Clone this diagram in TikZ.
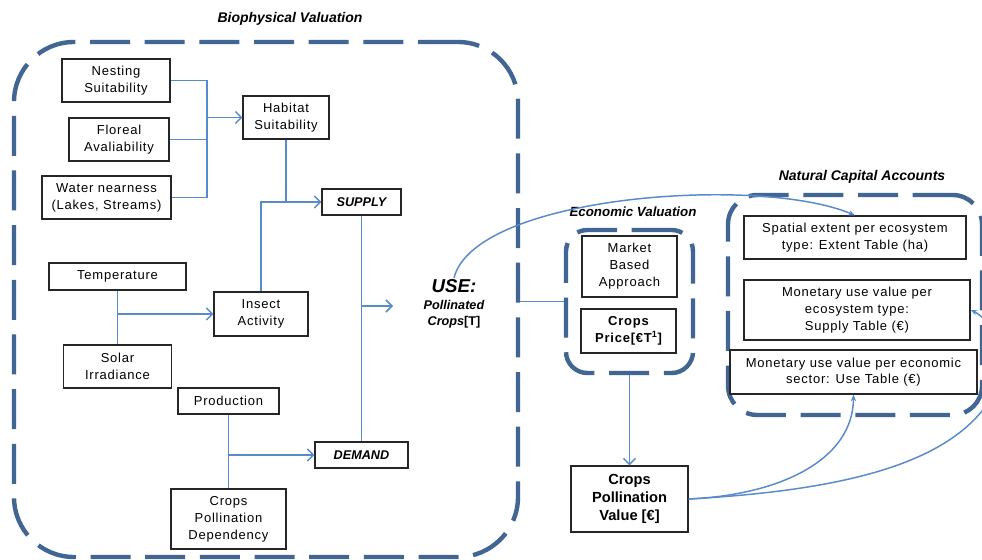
\documentclass[tikz,border=0pt]{standalone}
\usepackage{fontspec}
\setmainfont{Liberation Sans}
\newfontfamily\spacedfont{Liberation Sans}[LetterSpace=6]
\usetikzlibrary{arrows.meta,calc}

\definecolor{framecol}{RGB}{66,102,148}
\definecolor{linkcol}{RGB}{88,138,204}

\tikzset{
  frame/.style={draw=framecol, line width=3.3pt, dash pattern=on 30pt off 11pt,
                rectangle, inner sep=0pt},
  box/.style={draw=black!85, line width=0.9pt, fill=white, rectangle, align=center,
              inner sep=1pt, font=\spacedfont\fontsize{9.75}{12.75}\selectfont},
  bigbox/.style={box, font=\spacedfont\fontsize{9.75}{12.5}\selectfont},
  tight/.style={font=\fontsize{9.5}{12}\selectfont\bfseries\itshape},
  link/.style={draw=linkcol, line width=1.1pt},
  arr/.style={link, -{Straight Barb[length=4.5pt,width=9pt,line width=1.1pt]}},
  carr/.style={link, -{Stealth[length=5pt,width=4pt]}},
  title/.style={font=\fontsize{10.5}{12}\selectfont\bfseries\itshape}
}

\begin{document}
\begin{tikzpicture}[x=0.75pt,y=-0.75pt]
\clip (0,0) rectangle (982,560);
\fill[white] (0,0) rectangle (982,560);

% group frames
\node[frame, rounded corners=45pt, minimum width=378pt, minimum height=386.25pt] (bio) at (266,299.5) {};
\node[frame, rounded corners=16pt, minimum width=95.25pt, minimum height=107.25pt] (econ) at (629.5,301.5) {};
\node[frame, rounded corners=22pt, minimum width=190.5pt, minimum height=165pt] (nca) at (855,305) {};

% group titles
\node[title] at (290,19) {Biophysical Valuation};
\node[title, font=\fontsize{10}{12}\selectfont\bfseries\itshape] at (633,212) {Economic Valuation};
\node[title] at (862,177) {Natural Capital Accounts};

% biophysical boxes
\node[box, minimum width=81pt, minimum height=32.25pt] (nest) at (116,80.5) {Nesting\\Suitability};
\node[box, minimum width=75pt, minimum height=32.25pt] (flor) at (119,139.5) {Floreal\\Avaliability};
\node[box, minimum width=96.75pt, minimum height=32.25pt] (water) at (106.5,197.5) {Water nearness\\(Lakes, Streams)};
\node[box, minimum width=64.5pt, minimum height=32.25pt] (hab) at (286,117.5) {Habitat\\Suitability};
\node[box, tight, minimum width=59.25pt, minimum height=19.5pt] (supply) at (361.5,202) {SUPPLY};
\node[box, minimum width=102.75pt, minimum height=20.25pt] (temp) at (117.5,276.5) {Temperature};
\node[box, minimum width=70.5pt, minimum height=33pt] (insect) at (261,314) {Insect\\Activity};
\node[box, minimum width=81pt, minimum height=32.25pt] (solar) at (117.5,366.5) {Solar\\Irradiance};
\node[box, minimum width=75.75pt, minimum height=19.5pt] (prod) at (228.5,401) {Production};
\node[box, tight, minimum width=69.75pt, minimum height=19.5pt] (demand) at (361.5,455) {DEMAND};
\node[box, minimum width=86.25pt, minimum height=45pt] (cpd) at (228.5,519) {Crops\\Pollination\\Dependency};

% use label
\node[align=center, inner sep=1pt] (use) at (454,304)
  {{\fontsize{14}{15}\selectfont\bfseries\itshape USE:}\\[1pt]
   {\fontsize{9.5}{12.75}\selectfont\bfseries\itshape Pollinated}\\
   {\fontsize{9.5}{12.75}\selectfont\bfseries\itshape Crops\upshape[T]}};

% economic valuation boxes
\node[box, minimum width=71.25pt, minimum height=45.75pt] (market) at (629.5,266.5) {Market\\Based\\Approach};
\node[box, minimum width=71.25pt, minimum height=33pt, font=\spacedfont\fontsize{9.75}{12.75}\selectfont\bfseries] (price) at (628.5,331) {Crops\\Price[€T\textsuperscript{1}]};
\node[box, minimum width=87.75pt, minimum height=49.5pt, font=\fontsize{11}{13.5}\selectfont\bfseries] (cpv) at (629.5,499) {Crops\\Pollination\\Value [€]};

% natural capital account tables
\node[bigbox, minimum width=166.5pt, minimum height=32.25pt] (extent) at (855,237.5) {Spatial extent per ecosystem\\type: Extent Table (ha)};
\node[bigbox, minimum width=169.5pt, minimum height=45pt] (supt) at (857,310) {Monetary use value per\\ecosystem type:\\Supply Table (€)};
\node[bigbox, minimum width=185.25pt, minimum height=33pt] (uset) at (853.5,372) {Monetary use value per economic\\sector: Use Table (€)};

% junctions
\coordinate (habin) at (207,117.5);
\coordinate (usein) at (393,306);

% habitat factors
\draw[link] (nest.east) -| (habin);
\draw[link] (flor.east) -| (habin);
\draw[link] (water.east) -| (habin);
\draw[arr] (habin) -- (hab.west);

% supply
\draw[arr] (hab.south) |- (supply.west);
\draw[link] (insect.north) |- (hab.south |- supply.west);

% insect activity
\draw[link] (temp.south) -- (solar.north);
\draw[arr] (temp.south |- insect.west) -- (insect.west);

% demand
\draw[link] (prod.south) -- (cpd.north);
\draw[arr] (prod.south |- demand.west) -- (demand.west);

% supply and demand meet in use
\draw[link] (supply.south) -- (demand.north);
\draw[arr] (supply.south |- usein) -- (usein);

% links between groups
\draw[carr] (use.north) .. controls (475,195) and (760,175) .. (extent.north);
\draw[link] (bio.east |- econ.west) -- (econ.west);
\draw[arr] (econ.south) -- (cpv.north);
\draw[carr] (cpv.east) .. controls (780,495) and (853,460) .. (uset.south);
\draw[carr] (cpv.east) .. controls (850,490) and (950,462) .. (990,400)
                       .. controls (1010,360) and (992,320) .. (supt.east);
\end{tikzpicture}
\end{document}
